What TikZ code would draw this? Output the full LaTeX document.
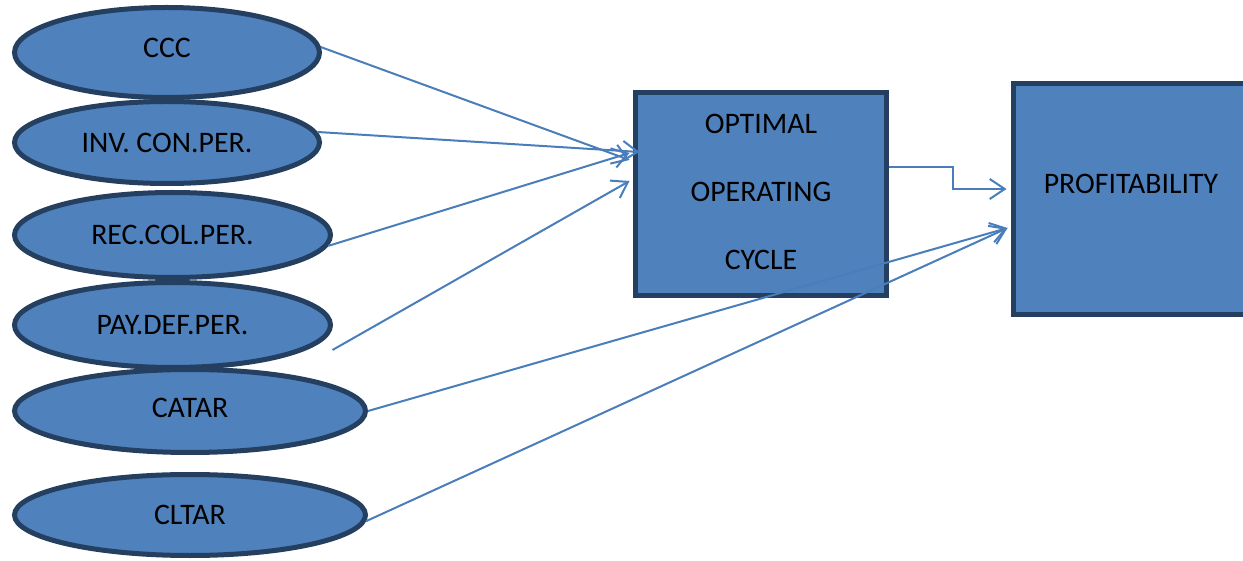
\documentclass[tikz,border=0pt]{standalone}
\usepackage{fontspec}
\setmainfont{Carlito}
\usetikzlibrary{shapes.geometric,arrows.meta,calc}
\definecolor{fillblue}{HTML}{4F81BD}
\definecolor{edgenavy}{HTML}{243F60}
\definecolor{linkblue}{HTML}{4A7EBB}
\newcommand{\liftup}[2]{\raisebox{#1}[\height][\depth]{#2}}
\tikzset{
  oval/.style={ellipse, draw=edgenavy, fill=fillblue, line width=5pt, inner sep=0pt,
    font=\fontsize{29.8}{34}\selectfont},
  bigbox/.style={rectangle, draw=edgenavy, fill=fillblue, line width=5pt, inner sep=0pt,
    align=center, font=\fontsize{29.8}{68}\selectfont},
  link/.style={draw=linkblue, line width=2pt,
    -{Straight Barb[length=15pt,width=20pt,line width=2pt]}},
  boxtext/.style={inner sep=0pt, font=\fontsize{29.8}{34}\selectfont}
}
\begin{document}
\begin{tikzpicture}[x=1pt,y=-1pt]
\useasboundingbox (0,0) rectangle (1243,561);
% ellipses
\node[oval, minimum width=305pt, minimum height=90pt] (ccc) at (167,52.5) {\liftup{5pt}{CCC}};
\node[oval, minimum width=305pt, minimum height=82pt] (inv) at (167,142.5) {INV. CON.PER.};
\node[oval, minimum width=316pt, minimum height=85pt] (rec) at (172.5,235) {REC.COL.PER.};
\node[oval, minimum width=316pt, minimum height=85pt] (pay) at (172.5,325) {PAY.DEF.PER.};
\node[oval, minimum width=351pt, minimum height=83pt] (catar) at (190,411) {\liftup{3pt}{CATAR}};
\node[oval, minimum width=351pt, minimum height=81pt] (cltar) at (190,515) {CLTAR};
% boxes
\node[bigbox, minimum width=251pt, minimum height=203pt] (ooc) at (761,194.5)
  {\liftup{3pt}{OPTIMAL}\\\liftup{3pt}{OPERATING}\\\liftup{3pt}{CYCLE}};
\node[bigbox, minimum width=235pt, minimum height=231pt] (prof) at (1131,199) {};
\node[boxtext] (proftext) at (1131,184) {PROFITABILITY};
% connectors
\draw[link] (ccc.2) -- ($(ooc.west)+(-3.5,-34.5)$);
\draw[link] (inv.4) -- ($(ooc.west)+(6.5,-42.5)$);
\draw[link] (rec.-4) -- ($(ooc.west)+(-3.5,-41.5)$);
\draw[link] ($(pay.east)+(-0.5,25)$) -- ($(ooc.west)+(-3.5,-13.5)$);
\draw[link] ($(ooc.east)+(0,-27.5)$) -- ++(63.5,0) |- ($(prof.west)+(-4.5,-10)$);
\draw[link] (catar.east) -- ($(prof.west)+(-3.5,29)$);
\draw[link] (cltar.-2) -- ($(prof.west)+(-3.5,29)$);
\end{tikzpicture}
\end{document}
